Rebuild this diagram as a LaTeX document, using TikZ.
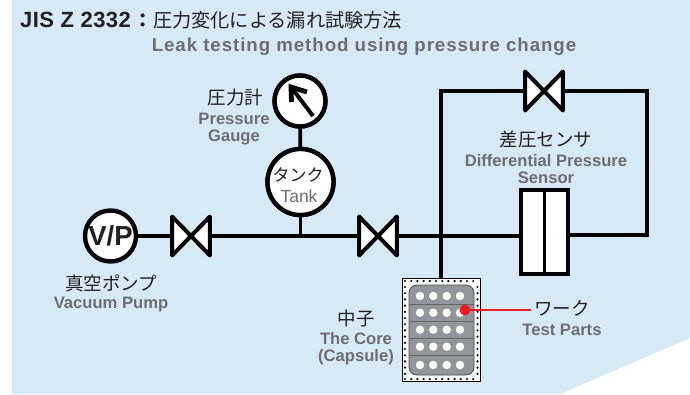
\documentclass[tikz,border=0pt]{standalone}
\usepackage{fontspec}
\setmainfont{Liberation Sans}
\newfontfamily\jp{Noto Sans CJK JP}
\definecolor{bgblue}{HTML}{D8E9F6}
\definecolor{ink}{HTML}{231F20}
\definecolor{greytxt}{HTML}{6D6E71}
\definecolor{coregrey}{HTML}{939598}
\definecolor{redline}{HTML}{ED1C24}
\tikzset{
  pipe/.style={draw=black,line width=3.8pt},
  instr/.style={circle,draw=black,fill=white,line width=4.4pt,inner sep=0pt,minimum size=#1},
  valvebox/.style={inner sep=0pt,minimum width=37.5pt,minimum height=38.5pt},
  bowtie/.style={draw=black,fill=white,line width=4pt,line join=round},
  jlabel/.style={text=ink,font=\jp\fontsize{18.5}{20}\selectfont,inner sep=0pt},
  elabel/.style={text=greytxt,font=\bfseries\fontsize{16.6}{17}\selectfont,align=center,inner sep=0pt},
}
\newcommand{\drawvalve}[1]{\path[bowtie] (#1.north west) -- (#1.south east) -- (#1.north east) -- (#1.south west) -- cycle;}
\begin{document}
\begin{tikzpicture}[x=1pt,y=-1pt]
\useasboundingbox (0,0) rectangle (690,394);
\fill[bgblue] (12,0) -- (690,0) -- (690,338) -- (560,394) -- (12,394) -- cycle;
% nodes
\node[instr=51pt,font=\bfseries\fontsize{27.5}{28}\selectfont,text=ink] (vp) at (110.5,236) {V/P};
\node[valvebox] (v1) at (191,236) {};
\node[valvebox] (v2) at (378,236) {};
\node[valvebox] (v3) at (544,91) {};
\node[instr=51pt] (gauge) at (300,101) {};
\node[instr=66pt] (tank) at (300.5,182) {};
\coordinate (tee1) at (300.5,236);
\coordinate (tee2) at (441,236);
\coordinate (topleft) at (441,91);
\coordinate (topright) at (647,91);
\coordinate (botright) at (647,235);
\node[draw=black,fill=white,line width=1.4pt,minimum width=78pt,minimum height=103pt,inner sep=0pt] (core) at (441.5,330) {};
\node[draw=black,fill=white,line width=4pt,minimum width=47pt,minimum height=84pt,inner sep=0pt] (sensor) at (544.5,232) {};
% pipes
\draw[pipe] (vp) -- (v1.center) -- (v2.center) -- (sensor.west |- tee2);
\draw[pipe] (tank) -- (tee1);
\draw[pipe] (gauge) -- (tank);
\draw[pipe,line join=miter] (core.north -| tee2) -- (topleft) -- (topright) -- (botright) -- (sensor.east |- botright);
\node[instr=51pt] at (gauge) {};
\node[instr=66pt,align=center,inner sep=0pt] at (tank) {};
\node[jlabel,font=\jp\fontsize{17}{17}\selectfont] (tankj) at (298,175) {タンク};
\node[text=greytxt,font=\fontsize{17.5}{18}\selectfont,inner sep=0pt] (tanke) at (299,196.5) {Tank};
\draw[black,line width=3.6pt] (sensor.north) -- (sensor.south);
\drawvalve{v1}\drawvalve{v2}\drawvalve{v3}
% gauge needle
\coordinate (needleend) at (313,116);
\coordinate (needletip) at (291,87);
\draw[black,line width=4pt] (needleend) -- (needletip);
\draw[black,line width=4.8pt,line join=miter] (291.5,102) -- (needletip) -- (307,92);
% core
\foreach \x in {405,411.2,...,478} {
  \fill[black] (\x,281) circle (1.2pt);
  \fill[black] (\x,379) circle (1.2pt);
}
\foreach \y in {287,293.2,...,374} {
  \fill[black] (405,\y) circle (1.2pt);
  \fill[black] (477.5,\y) circle (1.2pt);
}
\draw[draw=black!70,fill=coregrey,line width=0.8pt,rounded corners=8pt] (409,285) rectangle (474,375);
\foreach \y in {304.3,321.3,338.3,355.7} \draw[black!60,line width=0.7pt] (409,\y) -- (474,\y);
\foreach \y in {296,312.7,329.7,346.7,365}
  \foreach \x in {420,433.3,446.7,460} \fill[white] (\x,\y) circle (4.2pt);
% red pointer
\node[jlabel,anchor=west,font=\jp\fontsize{18.5}{18}\selectfont] (work) at (534,308) {ワーク};
\node[elabel] (worke) at (562,330) {Test Parts};
\node[circle,fill=redline,minimum size=11pt,inner sep=0pt] (reddot) at (465,310) {};
\draw[redline,line width=2.4pt] (reddot.center) -- (531,310);
% labels
\node[anchor=west,text=ink,inner sep=0pt,font=\bfseries\fontsize{22}{22}\addfontfeature{LetterSpace=2}\selectfont] (title) at (20,20.5) {JIS Z 2332\hspace{3pt}{\jp\fontsize{19.2}{21}\selectfont：\mdseries 圧力変化による漏れ試験方法}};
\node[elabel,font=\bfseries\fontsize{18.7}{19}\selectfont\addfontfeature{LetterSpace=5}] (sub) at (364,46.5) {Leak testing method using pressure change};
\node[jlabel] (pj) at (235.5,98) {圧力計};
\node[elabel] (pe) at (234,129) {Pressure\\Gauge};
\node[jlabel] (dj) at (546,139) {差圧センサ};
\node[elabel] (de) at (546,169) {Differential Pressure\\Sensor};
\node[jlabel] (vj) at (111,283) {真空ポンプ};
\node[elabel] (ve) at (111,305) {Vacuum Pump};
\node[jlabel] (cj) at (356,318) {中子};
\node[elabel,align=center] (ce) at (356,349) {The Core\\(Capsule)};
\end{tikzpicture}
\end{document}
